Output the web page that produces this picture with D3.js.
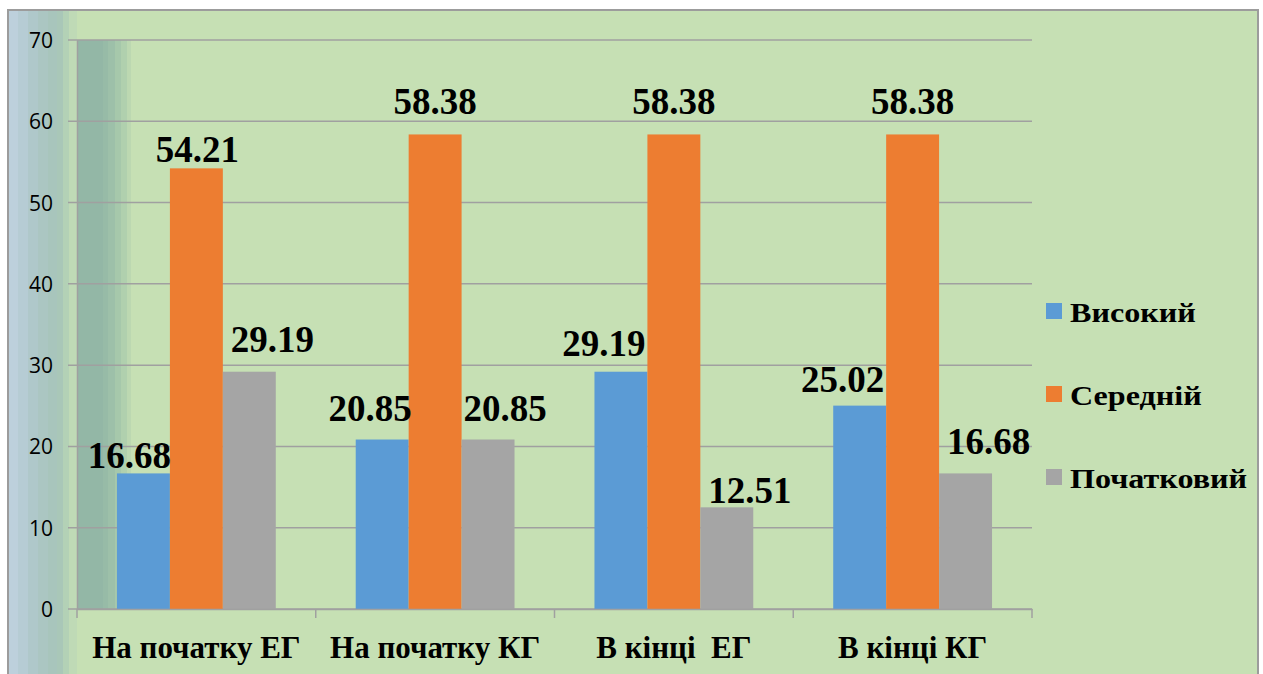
<!DOCTYPE html>
<html>
<head>
<meta charset="utf-8">
<script src="https://cdn.jsdelivr.net/npm/d3@7"></script>
<style>
  html, body { margin: 0; padding: 0; background: #ffffff; }
  svg { display: block; }
  .serif { font-family: "Liberation Serif", "Tinos", "Times New Roman", "DejaVu Serif", "Noto Serif", serif; font-weight: bold; }
</style>
</head>
<body>
<svg id="chart" width="1263" height="674"></svg>
<script>
// ---- Data ----
const categories = ["На початку ЕГ", "На початку КГ", "В кінці  ЕГ", "В кінці КГ"];
const seriesNames = ["Високий", "Середній", "Початковий"];
const vysokyi    = [16.68, 20.85, 29.19, 25.02];
const serednii   = [54.21, 58.38, 58.38, 58.38];
const pochatkovyi = [29.19, 20.85, 12.51, 16.68];
const yTicks = [0, 10, 20, 30, 40, 50, 60, 70];

// ---- Styles ----
const seriesColors = ["#5b9bd5", "#ed7d31", "#a5a5a5"];
// label nudges (Excel-style label placement), per series per category
const labelDx  = [[-14, -12, -17, -17], [1, 0, 0, 0], [23, 17, 23, 23]];
const labelGap = [[5, 19, 16, 14], [6, 20, 20, 20], [20, 19, 4, 19]];

const seriesValues = [vysokyi, serednii, pochatkovyi];

const svg = d3.select("#chart");
const W = 1263, H = 674;
const plot = { left: 77, right: 1032, top: 40, bottom: 609 };

// stepped band colours
const outerStripes = [[8, "#bdd0dc"], [18, "#b6ccd4"], [28, "#afc8ca"], [38, "#abc6c2"], [48, "#a8c5bc"], [57, "#a9c7b8"], [63, "#b3d1b6"], [69, "#bfdab6"]];
const innerStripes = [[77, "#93b7a6"], [103, "#97bba7"], [108, "#9dc0a9"], [115, "#a6c8ab"], [121, "#b0d0ae"], [127, "#bcd8b1"]];

// chart area background + frame
svg.append("rect").attr("x", 8).attr("y", 10).attr("width", 1250).attr("height", H)
  .attr("fill", "#c6e0b4");
svg.append("g").selectAll("rect").data(outerStripes).join("rect")
  .attr("x", d => d[0]).attr("y", 10)
  .attr("width", (d, i) => (i + 1 < outerStripes.length ? outerStripes[i + 1][0] : 77) - d[0])
  .attr("height", H).attr("fill", d => d[1]);
svg.append("g").selectAll("rect").data(innerStripes).join("rect")
  .attr("x", d => d[0]).attr("y", plot.top)
  .attr("width", (d, i) => (i + 1 < innerStripes.length ? innerStripes[i + 1][0] : 131) - d[0])
  .attr("height", plot.bottom - plot.top).attr("fill", d => d[1]);
svg.append("rect").attr("x", 8).attr("y", 10).attr("width", 1250).attr("height", H)
  .attr("fill", "none").attr("stroke", "#9c9c9c").attr("stroke-width", 2);

// scales
const x = d3.scaleBand().domain(categories).range([plot.left, plot.right]).paddingInner(0).paddingOuter(0);
const xs = d3.scaleBand().domain(seriesNames).range([0, x.bandwidth()]).paddingInner(0).paddingOuter(0.755);
const y = d3.scaleLinear().domain([0, 70]).range([plot.bottom, plot.top]);

// gridlines
svg.append("g").selectAll("line").data(yTicks).join("line")
  .attr("x1", plot.left - 9).attr("x2", plot.right)
  .attr("y1", d => y(d)).attr("y2", d => y(d))
  .attr("stroke", "#a0a0a0").attr("stroke-width", 1.5);

// y axis
const yAxis = svg.append("g").attr("transform", `translate(${plot.left},0)`)
  .call(d3.axisLeft(y).tickValues(yTicks).tickSize(0).tickPadding(24));
yAxis.select(".domain").attr("stroke", "#a0a0a0").attr("stroke-width", 1.5);
yAxis.selectAll("text").attr("font-family", "'Open Sans', 'Liberation Sans', Arial, sans-serif")
  .attr("font-size", 21).attr("fill", "#000").attr("dy", "0.36em");

// bars
const groups = svg.append("g").selectAll("g").data(categories).join("g")
  .attr("transform", d => `translate(${x(d)},0)`);
groups.each(function (cat, ci) {
  const gsel = d3.select(this);
  seriesNames.forEach((s, si) => {
    const v = seriesValues[si][ci];
    gsel.append("rect")
      .attr("x", xs(s)).attr("width", xs.bandwidth())
      .attr("y", y(v)).attr("height", y(0) - y(v))
      .attr("fill", seriesColors[si]);
  });
});

// x axis
const xAxis = svg.append("g").attr("transform", `translate(0,${plot.bottom})`)
  .call(d3.axisBottom(x).tickSize(0).tickPadding(0).tickFormat(""));
xAxis.select(".domain").attr("stroke", "#a0a0a0").attr("stroke-width", 1.5);
xAxis.selectAll(".tick").remove();
const boundaries = categories.map(c => x(c)).concat([x(categories[categories.length - 1]) + x.bandwidth()]);
svg.append("g").selectAll("line").data(boundaries).join("line")
  .attr("x1", d => d).attr("x2", d => d)
  .attr("y1", plot.bottom).attr("y2", plot.bottom + 9)
  .attr("stroke", "#a0a0a0").attr("stroke-width", 1.5);
svg.append("g").selectAll("text").data(categories).join("text")
  .attr("class", "serif")
  .attr("x", d => x(d) + x.bandwidth() / 2)
  .attr("y", 658)
  .attr("text-anchor", "middle")
  .attr("font-size", 31)
  .style("white-space", "pre")
  .text(d => d);

// value labels
groups.each(function (cat, ci) {
  const gsel = d3.select(this);
  seriesNames.forEach((s, si) => {
    const v = seriesValues[si][ci];
    gsel.append("text")
      .attr("class", "serif")
      .attr("x", xs(s) + xs.bandwidth() / 2 + labelDx[si][ci])
      .attr("y", y(v) - labelGap[si][ci])
      .attr("text-anchor", "middle")
      .attr("font-size", 37)
      .attr("fill", "#000")
      .text(d3.format(".2f")(v));
  });
});

// legend
const legend = svg.append("g").attr("transform", "translate(1046,303)");
const li = legend.selectAll("g").data(seriesNames).join("g")
  .attr("transform", (d, i) => `translate(0,${i * 83})`);
li.append("rect").attr("width", 16).attr("height", 16).attr("fill", (d, i) => seriesColors[i]);
li.append("text").attr("class", "serif")
  .attr("transform", "translate(24,19) scale(1.19,1)")
  .attr("font-size", 27).attr("fill", "#000")
  .text(d => d);
</script>
</body>
</html>
